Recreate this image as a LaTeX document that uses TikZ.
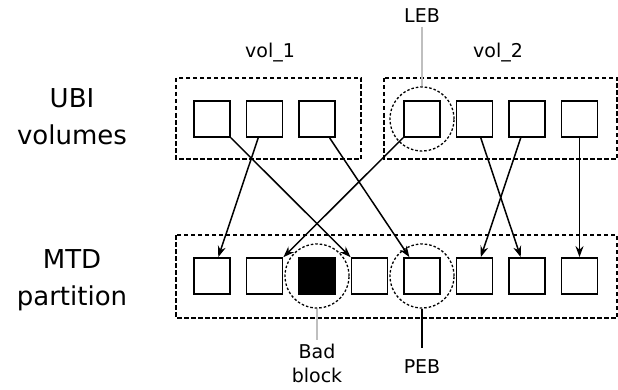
\documentclass[tikz,border=0pt]{standalone}
\usepackage{fontspec}
\setmainfont{DejaVu Sans}
\usepackage{tikz}
\usetikzlibrary{shapes,arrows,arrows.meta,calc,positioning}
\tikzset{
	thick,
	blk/.style = {rectangle, draw, line width=1.8pt, minimum size=36pt, inner sep=0pt},
	badblk/.style = {blk, fill=black},
	ring/.style = {circle, draw, line width=1.3pt, dash pattern=on 2.5pt off 2pt,
     minimum size=64pt, inner sep=0pt},
	grp/.style = {draw, line width=1.6pt, dash pattern=on 4.5pt off 2.5pt},
	big/.style = {font=\fontsize{26}{37}\selectfont, align=center, anchor=base},
	small/.style = {font=\fontsize{19}{24}\selectfont, align=center, anchor=base},
	pointer/.style = {line width=1.5pt},
}

\begin{document}
\begin{tikzpicture}[x=1pt, y=1pt]
    \useasboundingbox (0,0) rectangle (618,389);
    % dashed groups
    \draw[grp] (176,311) rectangle (361,230);
    \draw[grp] (384,311) rectangle (617,230);
    \draw[grp] (176,154) rectangle (617,71);
    \node[big] (ubi) at (72,244) {UBI\\volumes};
    \node[big] (mtd) at (72,84) {MTD\\partition};
    \node[small] (vol1) at (270,331) {vol\_1};
    \node[small] (vol2) at (498,331) {vol\_2};
    % logical blocks
    \foreach \i in {0,1,2,4,5,6,7}
        \node[blk] (t\i) at ({212+52.5*\i},270) {};
    % physical blocks
    \foreach \i in {0,1,3,4,5,6,7}
        \node[blk] (b\i) at ({212+52.5*\i},113) {};
    \node[badblk] (b2) at (317,113) {};
    \node[ring] (leb) at (t4) {};
    \node[ring] (bad) at (b2) {};
    \node[ring] (peb) at (b4) {};
    \node[small] (lebtxt) at (422,366) {LEB};
    \node[small] (badtxt) at (317,7) {Bad\\block};
    \node[small] (pebtxt) at (422,16) {PEB};
    \draw[pointer, gray!50] (lebtxt) -- (leb.north);
    \draw[pointer, gray!50] (bad.south) -- (badtxt);
    \draw[pointer, shorten >=8pt] (peb.south) -- (pebtxt);
    \draw[->, >={Stealth[length=11pt, width=8pt]}, pointer] (t0) -- (b3);
    \draw[->, >={Stealth[length=11pt, width=8pt]}, pointer] (t1) -- (b0);
    \draw[->, >={Stealth[length=11pt, width=8pt]}, pointer] (t2) -- (b4);
    \draw[->, >={Stealth[length=11pt, width=8pt]}, pointer] (t4) -- (b1);
    \draw[->, >={Stealth[length=11pt, width=8pt]}, pointer] (t5) -- (b6);
    \draw[->, >={Stealth[length=11pt, width=8pt]}, pointer] (t6) -- (b5);
    \draw[->, >={Stealth[length=11pt, width=8pt]}, pointer] (t7) -- (b7);
\end{tikzpicture}
\end{document}
